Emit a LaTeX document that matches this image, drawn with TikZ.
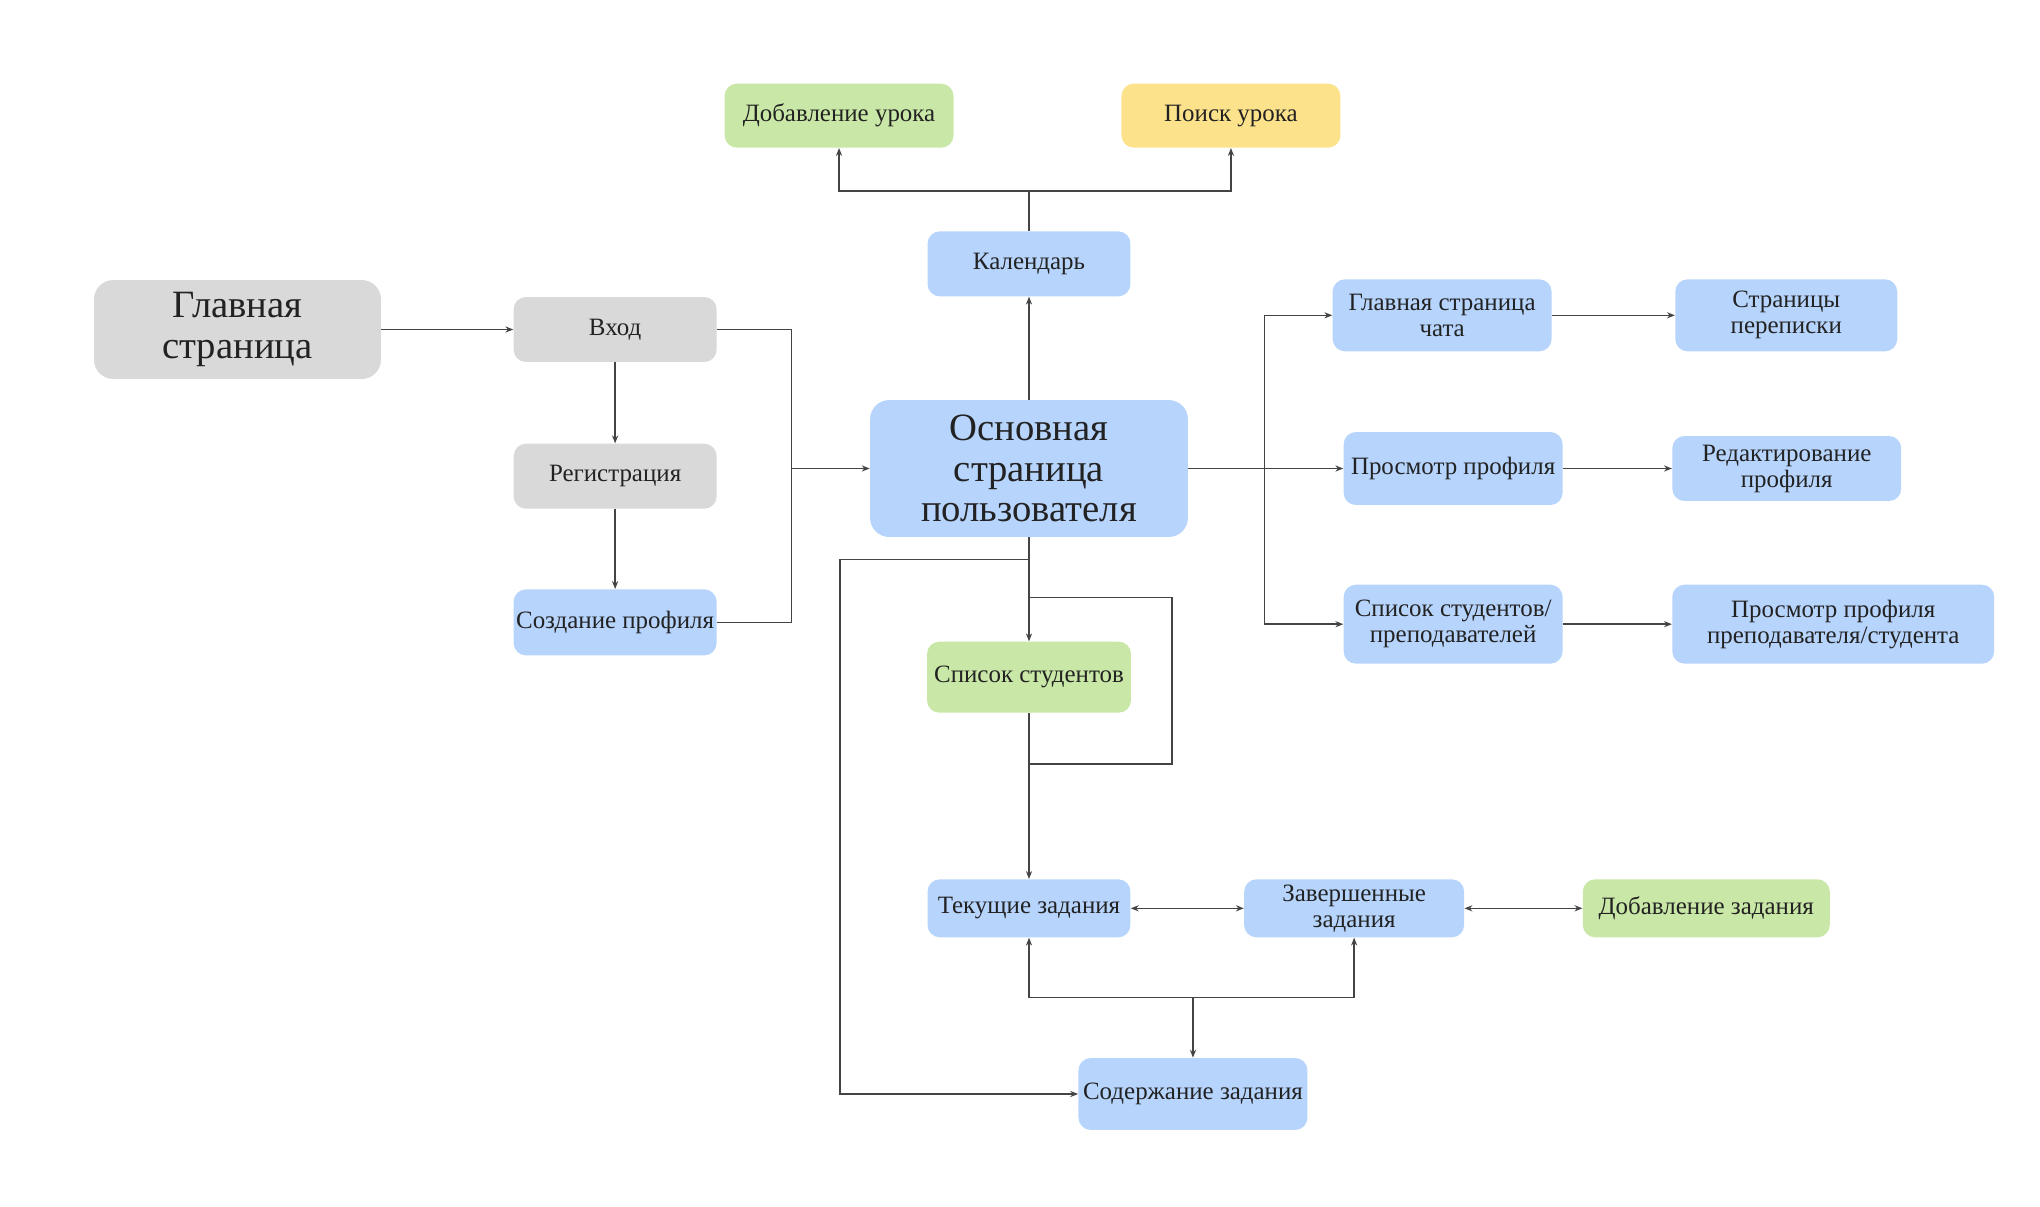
\documentclass[tikz,border=0pt]{standalone}
\usepackage{fontspec}
\setmainfont{Liberation Serif}
\newfontfamily\diagfont{Liberation Serif}
\usetikzlibrary{positioning}
\usetikzlibrary{arrows.meta}

\definecolor{boxgray}{RGB}{217,217,217}
\definecolor{boxblue}{RGB}{182,212,252}
\definecolor{boxgreen}{RGB}{201,232,167}
\definecolor{boxyellow}{RGB}{252,226,138}
\definecolor{linecol}{RGB}{68,68,68}
\definecolor{textcol}{RGB}{34,34,34}

\tikzset{
  box/.style={rounded corners=7pt, inner sep=1pt, align=center, text=textcol,
    font=\diagfont\fontsize{14.2}{14.8}\selectfont},
  bigbox/.style={box, rounded corners=11pt, font=\diagfont\fontsize{22}{23.2}\selectfont},
  conn/.style={draw=linecol, line width=0.8pt},
  arr/.style={conn, -{Stealth[length=4.5pt,width=3.5pt]}},
  arr2/.style={conn, {Stealth[length=4.5pt,width=3.5pt]}-{Stealth[length=4.5pt,width=3.5pt]}},
}

\begin{document}
\begin{tikzpicture}[x=0.02cm, y=-0.02cm]
\useasboundingbox (0,0) rectangle (2040,1207);

% left part
\node[bigbox, fill=boxgray, minimum width=5.74cm, minimum height=1.98cm] (glavn) at (237.5,329.5) {Главная\\страница};
\node[box, fill=boxgray, minimum width=4.06cm, minimum height=1.3cm, right=2.64cm of glavn] (vhod) {Вход};
\node[box, fill=boxgray, minimum width=4.06cm, minimum height=1.3cm, below=1.62cm of vhod] (reg) {Регистрация};
\node[box, fill=boxblue, minimum width=4.06cm, minimum height=1.32cm, below=1.6cm of reg] (sozd) {Создание профиля};

% centre
\node[bigbox, fill=boxblue, minimum width=6.36cm, minimum height=2.74cm] (osn) at (1029,468.5) {Основная\\страница\\пользователя};
\node[box, fill=boxblue, minimum width=4.06cm, minimum height=1.3cm, above=2.06cm of osn] (kal) {Календарь};
\node[box, fill=boxgreen, minimum width=4.58cm, minimum height=1.28cm, above=1.66cm of kal, xshift=-3.8cm] (dobur) {Добавление урока};
\node[box, fill=boxyellow, minimum width=4.38cm, minimum height=1.28cm, above=1.66cm of kal, xshift=4.04cm] (poisk) {Поиск урока};

% right part
\node[box, fill=boxblue, minimum width=4.38cm, minimum height=1.46cm, right=3.1cm of osn] (prosm) {Просмотр профиля};
\node[box, fill=boxblue, minimum width=4.38cm, minimum height=1.44cm, above=1.6cm of prosm, xshift=-0.22cm] (chat) {Главная страница\\чата};
\node[box, fill=boxblue, minimum width=4.38cm, minimum height=1.58cm, below=1.58cm of prosm] (spsp) {Список студентов/\\преподавателей};
\node[box, fill=boxblue, minimum width=4.44cm, minimum height=1.44cm, right=2.46cm of chat] (perep) {Страницы\\переписки};
\node[box, fill=boxblue, minimum width=4.58cm, minimum height=1.3cm, right=2.18cm of prosm] (red) {Редактирование\\профиля};
\node[box, fill=boxblue, minimum width=6.44cm, minimum height=1.58cm, right=2.18cm of spsp] (prpr) {Просмотр профиля\\преподавателя/студента};

% lower part
\node[box, fill=boxgreen, minimum width=4.08cm, minimum height=1.42cm, below=2.08cm of osn] (spst) {Список студентов};
\node[box, fill=boxblue, minimum width=4.06cm, minimum height=1.16cm, below=3.32cm of spst] (tek) {Текущие задания};
\node[box, fill=boxblue, minimum width=4.4cm, minimum height=1.16cm, right=2.26cm of tek] (zav) {Завершенные\\задания};
\node[box, fill=boxgreen, minimum width=4.94cm, minimum height=1.16cm, right=2.36cm of zav] (dobz) {Добавление задания};
\node[box, fill=boxblue, minimum width=4.58cm, minimum height=1.44cm, below=2.4cm of tek, xshift=3.28cm] (sod) {Содержание задания};

% junctions
\coordinate[left=1.56cm of osn] (jl);
\coordinate[right=1.52cm of osn] (jr);
\coordinate[above=0.8cm of kal] (jt);
\coordinate[below=0.44cm of osn] (jd);
\coordinate[below=1.2cm of osn] (lt);
\coordinate[above=2.3cm of tek] (lb);
\coordinate[right=2.86cm of lb] (lr);
\coordinate[above=1.2cm of sod] (jb);

\draw[arr] (glavn) -- (vhod);
\draw[arr] (vhod) -- (reg);
\draw[arr] (reg) -- (sozd);
\draw[conn] (vhod.east) -| (jl);
\draw[conn] (sozd.east) -| (jl);
\draw[arr] (jl) -- (osn.west);

\draw[arr] (osn) -- (kal);
\draw[conn] (kal.north) -- (jt);
\draw[arr] (jt) -| (dobur.south);
\draw[arr] (jt) -| (poisk.south);

\draw[arr] (osn.east) -- (prosm.west);
\draw[arr] (jr) |- (chat.west);
\draw[arr] (jr) |- (spsp.west);
\draw[arr] (chat) -- (perep);
\draw[arr] (prosm) -- (red);
\draw[arr] (spsp) -- (prpr);

\draw[arr] (osn) -- (spst);
\draw[conn] (lt) -| (lr) -- (lb);
\draw[arr] (spst) -- (tek);
\draw[arr] (jd) -- ++(-3.78cm,0) |- (sod.west);

\draw[arr2] (tek) -- (zav);
\draw[arr2] (zav) -- (dobz);
\draw[arr] (jb) -- (sod);
\draw[arr] (jb) -| (tek.south);
\draw[arr] (jb) -| (zav.south);
\end{tikzpicture}
\end{document}
